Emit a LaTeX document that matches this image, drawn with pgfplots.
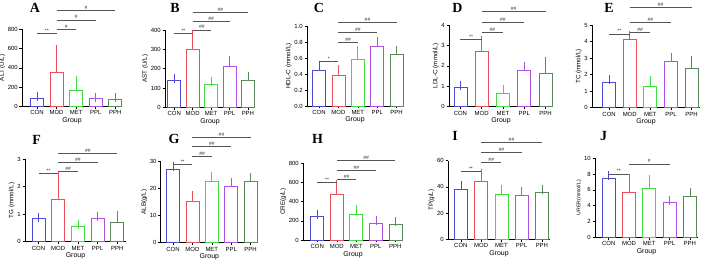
\documentclass[border=0pt]{standalone}
\usepackage{pgfplots}
\pgfplotsset{compat=1.18}
\usepackage{fontspec}
\setmainfont{Liberation Sans}
\newfontfamily\letterfont{Liberation Serif}

\definecolor{cCON}{HTML}{4B4BD8}
\definecolor{cMOD}{HTML}{E8505A}
\definecolor{cMET}{HTML}{40DD40}
\definecolor{cPPL}{HTML}{B050E0}
\definecolor{cPPH}{HTML}{5A8A5A}
\definecolor{sigc}{HTML}{555555}

\newcommand{\fs}[1]{\fontsize{#1}{#1}\selectfont}

\newcommand{\barp}[4]{\addplot[ybar, bar width=13bp, bar shift=0pt, draw=#1, fill=white, line width=0.7bp,
  error bars/.cd, y dir=plus, y explicit, error bar style={draw=#1, line width=0.7bp},
  error mark options={draw=#1, mark size=4.5bp, line width=0.7bp}] coordinates {(#2,#3) += (0,#4)};}

\newcommand{\sig}[4]{\draw[sigc, line width=0.6bp] (axis cs:#1,#3) -- (axis cs:#2,#3) node[midway, above, inner sep=0.7bp, font=\fs{5}, text=black!85]{#4};}

\newcommand{\panelletter}[3]{\node[font=\letterfont\bfseries\fs{14}] at (#1bp,#2bp) {#3};}

\pgfplotsset{panel/.style={scale only axis, clip=false, anchor=south west,
  axis lines=left, axis line style={-, line width=0.7bp},
  xtick={0,1,2,3,4}, xticklabels={CON,MOD,MET,PPL,PPH},
  tick align=outside, major tick length=2.5bp, every tick/.style={black, line width=0.6bp},
  ymin=0, ticklabel style={font=\fs{6}}, /pgf/number format/assume math mode=true,
  xlabel={Group}, xlabel style={font=\fs{7}, inner sep=1bp},
  ylabel style={font=\fs{6.3}, inner sep=1bp},
  xticklabel style={inner sep=1.5bp}, yticklabel style={inner sep=1.5bp}}}

\begin{document}
\begin{tikzpicture}
\useasboundingbox (0,0) rectangle (708bp,265bp);

% ---------- A ----------
\begin{axis}[panel, at={(22bp,158.7bp)}, width=100bp, height=77bp,
  xmin=-0.765, xmax=4.34, ymax=800, ytick={0,200,400,600,800}, ylabel={ALT (U/L)}]
\barp{cCON}{0}{80}{20}
\barp{cMOD}{1}{356}{236}
\barp{cMET}{2}{170}{96}
\barp{cPPL}{3}{83}{7}
\barp{cPPH}{4}{73}{20}
\sig{0}{1}{758}{**}
\sig{1}{2}{800}{\#}
\sig{1}{3}{897}{\#}
\sig{1}{4}{994}{\#}
\end{axis}
\panelletter{35}{257}{A}

% ---------- B ----------
\begin{axis}[panel, at={(165bp,157.7bp)}, width=90bp, height=77.3bp,
  xmin=-0.505, xmax=4.386, ymax=400, ytick={0,100,200,300,400}, ylabel={AST (U/L)}]
\barp{cCON}{0}{140}{8}
\barp{cMOD}{1}{300}{79}
\barp{cMET}{2}{121}{15}
\barp{cPPL}{3}{210}{31}
\barp{cPPH}{4}{141}{18}
\sig{0}{1}{383}{**}
\sig{1}{2}{400}{\#\#}
\sig{1}{3}{443}{\#\#}
\sig{1}{4}{490}{\#\#}
\end{axis}
\panelletter{175}{257}{B}

% ---------- C ----------
\begin{axis}[panel, at={(307bp,159bp)}, width=96bp, height=80bp,
  xmin=-0.62, xmax=4.33, ymax=1, ytick={0,0.2,0.4,0.6,0.8,1.0},
  yticklabel style={/pgf/number format/.cd, fixed, fixed zerofill, precision=1},
  ylabel={HDL-C (mmol/L)}]
\barp{cCON}{0}{0.45}{0.05}
\barp{cMOD}{1}{0.383}{0.075}
\barp{cMET}{2}{0.583}{0.107}
\barp{cPPL}{3}{0.75}{0.054}
\barp{cPPH}{4}{0.65}{0.0375}
\sig{0}{1}{0.554}{*}
\sig{1}{2}{0.796}{\#\#}
\sig{1}{3}{0.921}{\#\#}
\sig{1}{4}{1.042}{\#\#}
\end{axis}
\panelletter{319}{257}{C}

% ---------- D ----------
\begin{axis}[panel, at={(449bp,158.3bp)}, width=104bp, height=81.7bp,
  xmin=-0.535, xmax=4.35, ymax=4, ytick={0,1,2,3,4}, ylabel={LDL-C (mmol/L)}]
\barp{cCON}{0}{0.95}{0.11}
\barp{cMOD}{1}{2.69}{0.54}
\barp{cMET}{2}{0.65}{0.20}
\barp{cPPL}{3}{1.76}{0.23}
\barp{cPPH}{4}{1.63}{0.56}
\sig{0}{1}{3.30}{**}
\sig{1}{2}{3.64}{\#\#}
\sig{1}{3}{4.11}{\#\#}
\sig{1}{4}{4.65}{\#\#}
\end{axis}
\panelletter{457.5}{257}{D}

% ---------- E ----------
\begin{axis}[panel, at={(592bp,157.3bp)}, width=108bp, height=82.7bp,
  xmin=-0.83, xmax=4.41, ymax=5, ytick={0,1,2,3,4,5}, ylabel={TC (mmol/L)}]
\barp{cCON}{0}{1.53}{0.18}
\barp{cMOD}{1}{4.15}{0.20}
\barp{cMET}{2}{1.31}{0.32}
\barp{cPPL}{3}{2.78}{0.24}
\barp{cPPH}{4}{2.36}{0.52}
\sig{0}{1}{4.46}{**}
\sig{1}{2}{4.56}{\#\#}
\sig{1}{3}{5.14}{\#\#}
\sig{1}{4}{6.07}{\#\#}
\end{axis}
\panelletter{609}{257}{E}

% ---------- F ----------
\begin{axis}[panel, at={(25bp,23.3bp)}, width=101bp, height=82.4bp,
  xmin=-0.686, xmax=4.44, ymax=3, ytick={0,1,2,3}, ylabel={TG (mmol/L)}]
\barp{cCON}{0}{0.85}{0.037}
\barp{cMOD}{1}{1.54}{0.83}
\barp{cMET}{2}{0.57}{0.07}
\barp{cPPL}{3}{0.86}{0.075}
\barp{cPPH}{4}{0.70}{0.247}
\sig{0}{1}{2.49}{**}
\sig{1}{2}{2.55}{\#\#}
\sig{1}{3}{2.89}{\#\#}
\sig{1}{4}{3.22}{\#\#}
\end{axis}
\panelletter{36.7}{125}{F}

% ---------- G ----------
\begin{axis}[panel, at={(160.7bp,22.3bp)}, width=97.3bp, height=81bp,
  xmin=-0.634, xmax=4.38, ymax=30, ytick={0,10,20,30}, ylabel={ALB(g/L)}]
\barp{cCON}{0}{27.3}{1.1}
\barp{cMOD}{1}{15.4}{2.25}
\barp{cMET}{2}{22.6}{1.8}
\barp{cPPL}{3}{21.0}{1.3}
\barp{cPPH}{4}{22.6}{1.5}
\sig{0}{1}{29.1}{**}
\sig{1}{2}{32.1}{\#\#}
\sig{1}{3}{35.6}{\#\#}
\sig{1}{4}{39.0}{\#\#}
\end{axis}
\panelletter{174}{126.3}{G}

% ---------- H ----------
\begin{axis}[panel, at={(303bp,25bp)}, width=100bp, height=76.7bp,
  xmin=-0.733, xmax=4.39, ymax=800, ytick={0,200,400,600,800}, ylabel={CRE(g/L)}]
\barp{cCON}{0}{250}{11}
\barp{cMOD}{1}{480}{94}
\barp{cMET}{2}{271}{42}
\barp{cPPL}{3}{174}{28}
\barp{cPPH}{4}{167}{24}
\sig{0}{1}{598}{**}
\sig{1}{2}{633}{\#\#}
\sig{1}{3}{730}{\#\#}
\sig{1}{4}{828}{\#\#}
\end{axis}
\panelletter{317.5}{126.3}{H}

% ---------- I ----------
\begin{axis}[panel, at={(448bp,25.7bp)}, width=102bp, height=78.6bp,
  xmin=-0.635, xmax=4.40, ymax=60, ytick={0,20,40,60}, ylabel={TP(g/L)}]
\barp{cCON}{0}{38.1}{3.3}
\barp{cMOD}{1}{44.2}{6.1}
\barp{cMET}{2}{34.6}{3.5}
\barp{cPPL}{3}{33.8}{2.6}
\barp{cPPH}{4}{36.1}{1.8}
\sig{0}{1}{51.6}{**}
\sig{1}{2}{58.7}{\#\#}
\sig{1}{3}{66.1}{\#\#}
\sig{1}{4}{73.7}{\#\#}
\end{axis}
\panelletter{455}{128.7}{I}

% ---------- J ----------
\begin{axis}[panel, at={(595bp,27.7bp)}, width=103bp, height=79bp,
  xmin=-0.675, xmax=4.40, ymax=10, ytick={0,2,4,6,8,10}, ylabel={URER(mmol/L)},
  ylabel style={font=\fs{5.2}}]
\barp{cCON}{0}{7.47}{0.29}
\barp{cMOD}{1}{5.70}{1.77}
\barp{cMET}{2}{6.20}{1.06}
\barp{cPPL}{3}{4.39}{0.21}
\barp{cPPH}{4}{5.15}{0.50}
\sig{0}{1}{8.02}{**}
\sig{1}{3}{9.28}{\#}
\end{axis}
\panelletter{603.7}{129}{J}
\end{tikzpicture}
\end{document}
